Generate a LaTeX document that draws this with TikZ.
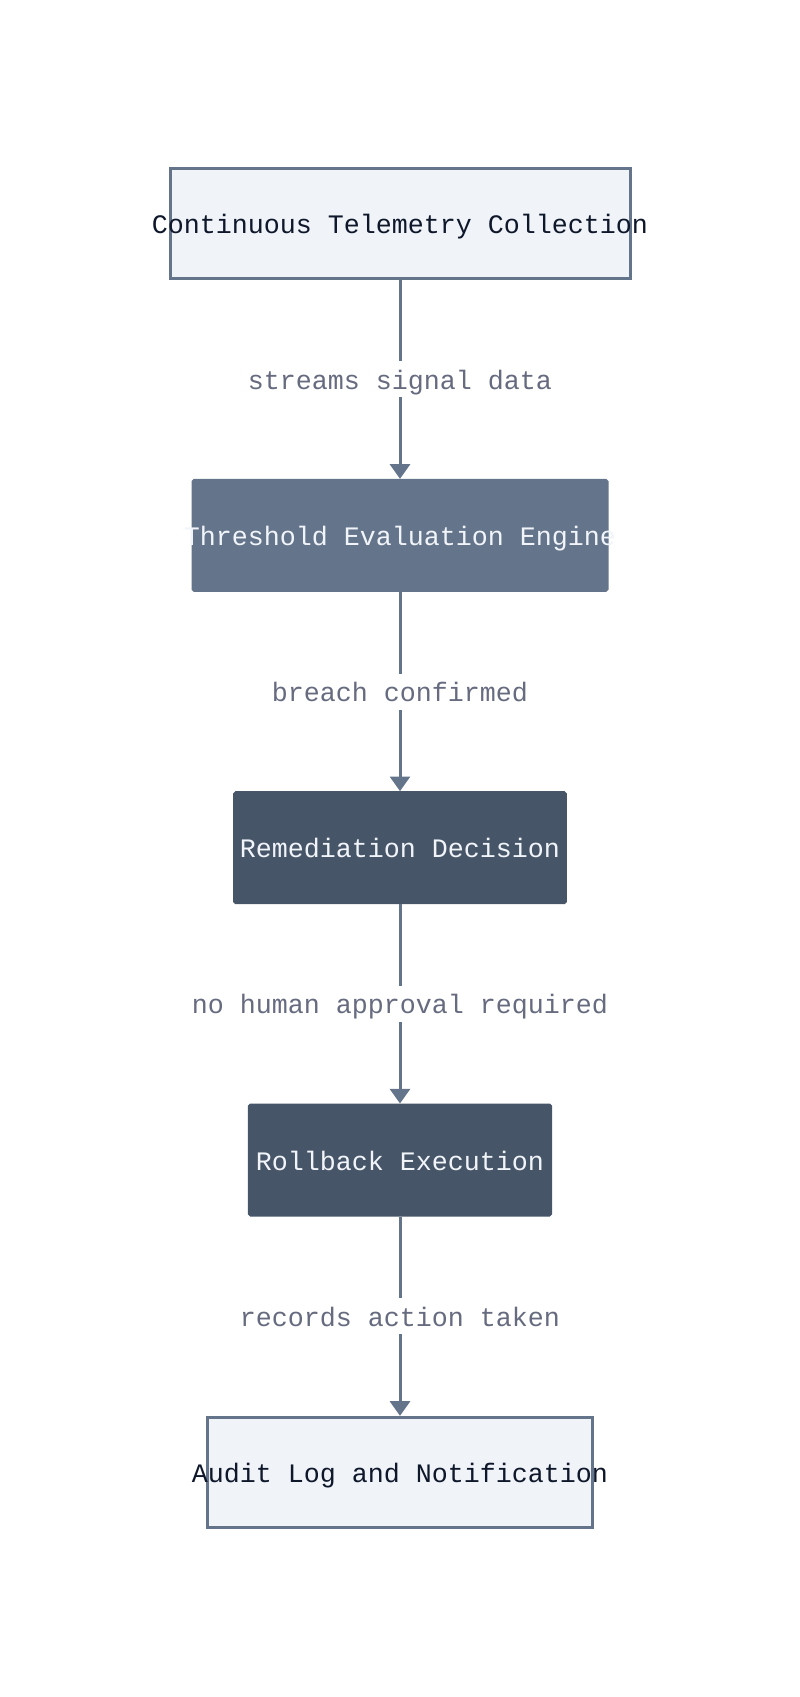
\documentclass[tikz,border=0pt]{standalone}
\usepackage{fontspec}
\setmonofont{Liberation Mono}
\usetikzlibrary{positioning,arrows.meta}
\definecolor{slateline}{HTML}{64748B}
\definecolor{slatedark}{HTML}{475569}
\definecolor{slatepale}{HTML}{F0F4F9}
\definecolor{inkdark}{HTML}{0F172A}
\definecolor{inklight}{HTML}{F1F5F9}
\definecolor{inklabel}{HTML}{666B80}
% text may run past the box edge, so it takes no width
\newcommand{\boxtext}[1]{\makebox[0pt]{#1}}

\begin{document}
\begin{tikzpicture}[every node/.style={font=\ttfamily\fontsize{20}{24}\selectfont},
  node distance=149.5pt,
  stage/.style={rectangle, line width=2.25pt, text height=18pt, text depth=3pt},
  lightstage/.style={stage, draw=slateline, fill=slatepale, text=inkdark, minimum height=82.5pt},
  midstage/.style={stage, draw=slateline, fill=slateline, text=inklight, rounded corners=1pt, minimum height=82.5pt},
  darkstage/.style={stage, draw=slatedark, fill=slatedark, text=inklight, rounded corners=1pt, minimum height=82.5pt},
  flow/.style={-{Triangle[width=15pt,length=11pt]}, line width=2.25pt, draw=slateline},
  lbl/.style={fill=white, text=inklabel, inner xsep=2pt, inner ysep=3pt, text height=18pt, text depth=3pt}]
  \useasboundingbox (0,0) rectangle (600pt,-1272.75pt);
  % Pipeline stages, top to bottom
  \node[lightstage, minimum width=345pt] (collect) at (300pt,-167.25pt) {\boxtext{Continuous Telemetry Collection}};
  \node[midstage, minimum width=310.5pt, below=of collect] (evaluate) {\boxtext{Threshold Evaluation Engine}};
  \node[darkstage, minimum width=248pt, below=of evaluate] (decide) {\boxtext{Remediation Decision}};
  \node[darkstage, minimum width=226pt, below=of decide] (rollback) {\boxtext{Rollback Execution}};
  \node[lightstage, minimum width=289pt, below=of rollback] (audit) {\boxtext{Audit Log and Notification}};
  % Connectors with their labels
  \draw[flow] (collect) -- node[lbl] {streams signal data} (evaluate);
  \draw[flow] (evaluate) -- node[lbl] {breach confirmed} (decide);
  \draw[flow] (decide) -- node[lbl] {no human approval required} (rollback);
  \draw[flow] (rollback) -- node[lbl] {records action taken} (audit);
\end{tikzpicture}
\end{document}
